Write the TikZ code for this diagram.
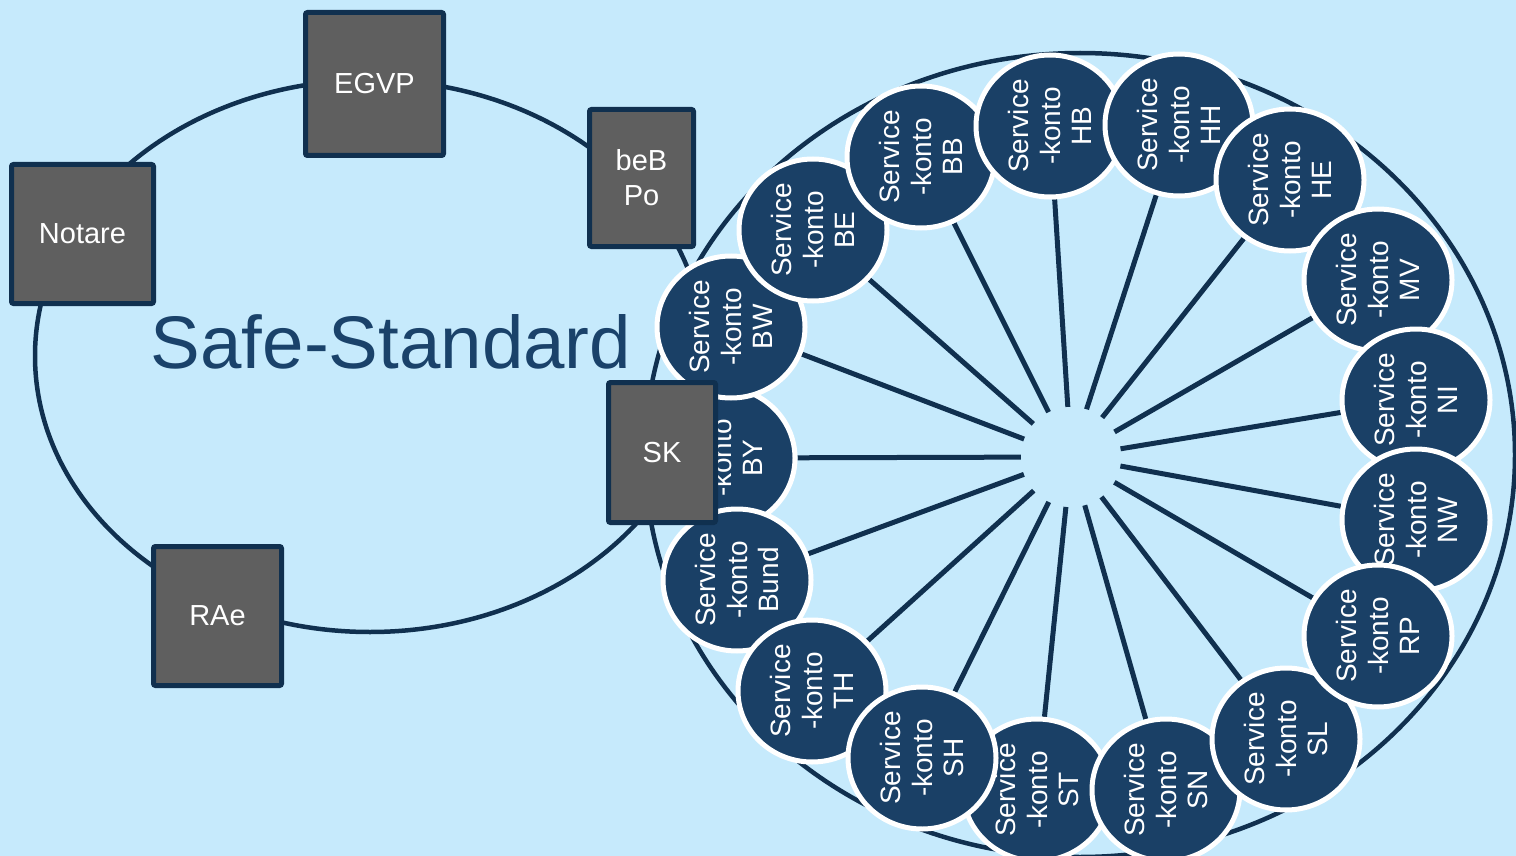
\documentclass[tikz,border=0pt]{standalone}
\usepackage{fontspec}
\setmainfont{Liberation Sans}
\usetikzlibrary{shapes.geometric}
\definecolor{bgblue}{RGB}{198,234,252}
\definecolor{navy}{RGB}{16,48,79}
\definecolor{svcblue}{RGB}{26,64,102}
\definecolor{boxgray}{RGB}{95,95,95}
\definecolor{titleblue}{RGB}{26,66,106}
\pgfdeclarelayer{back}
\pgfdeclarelayer{mid}
\pgfsetlayers{back,mid,main}
\begin{document}
\begin{tikzpicture}[x=1pt,y=-1pt,
  svc/.style={ellipse, draw=white, line width=5pt, fill=svcblue, text=white,
    rotate=90, minimum width=142pt, minimum height=148pt, inner sep=0pt,
    align=center, font=\fontsize{28}{31.5}\selectfont},
  box/.style={draw=navy, fill=boxgray, line width=5pt, rounded corners=2pt,
    text=white, align=center, font=\fontsize{29}{35}\selectfont, inner sep=0pt},
  ring/.style={draw=navy, line width=4.5pt},
  spoke/.style={draw=navy, line width=5pt}]
\useasboundingbox (0,0) rectangle (1516,856);
\begin{pgfonlayer}{back}
\fill[bgblue] (0,0) rectangle (1516,856);
\end{pgfonlayer}

% hub of the spokes
\node[circle, minimum size=100pt, inner sep=0pt] (hub) at (1071,457) {};

% service circles, in drawing order
\foreach \n/\x/\y/\t in {
  by/721/458/BY, bw/731/327/BW, bund/737/580/Bund, be/813/230/BE,
  th/812/691/TH, bb/921/157/BB, hb/1050/126/HB, st/1037/790/ST,
  sh/922/758/SH, hh/1179/125/HH, sn/1166/790/SN, he/1290/180/HE,
  sl/1286/739/SL, mv/1378/280/MV, ni/1416/400/NI, nw/1416/520/NW,
  rp/1378/636/RP}
  \node[svc] (\n) at (\x,\y) {Service\\-konto\\\t};

\begin{pgfonlayer}{mid}
\draw[ring] (370,356) ellipse [x radius=335, y radius=276];
\draw[ring] (1080,455) ellipse [x radius=435, y radius=402];
\foreach \n in {by,bw,bund,be,th,bb,sh,hb,st,hh,sn,he,sl,mv,ni,nw,rp}
  \draw[spoke] (hub) -- (\n);
\end{pgfonlayer}

% title
\node[anchor=base, text=titleblue, font=\fontsize{74.5}{80}\selectfont, inner sep=0pt]
  (title) at (391,368) {Safe-Standard};

% boxes
\node[box, minimum width=138pt, minimum height=143pt] (egvp) at (374.5,84) {EGVP};
\node[box, minimum width=104pt, minimum height=137pt] (bebpo) at (641.5,178) {beB\\Po};
\node[box, minimum width=142pt, minimum height=139pt] (notare) at (82.5,234) {Notare};
\node[box, minimum width=107pt, minimum height=140pt] (sk) at (662,452.5) {SK};
\node[box, minimum width=128pt, minimum height=139pt] (rae) at (217.5,616) {RAe};
\end{tikzpicture}
\end{document}
